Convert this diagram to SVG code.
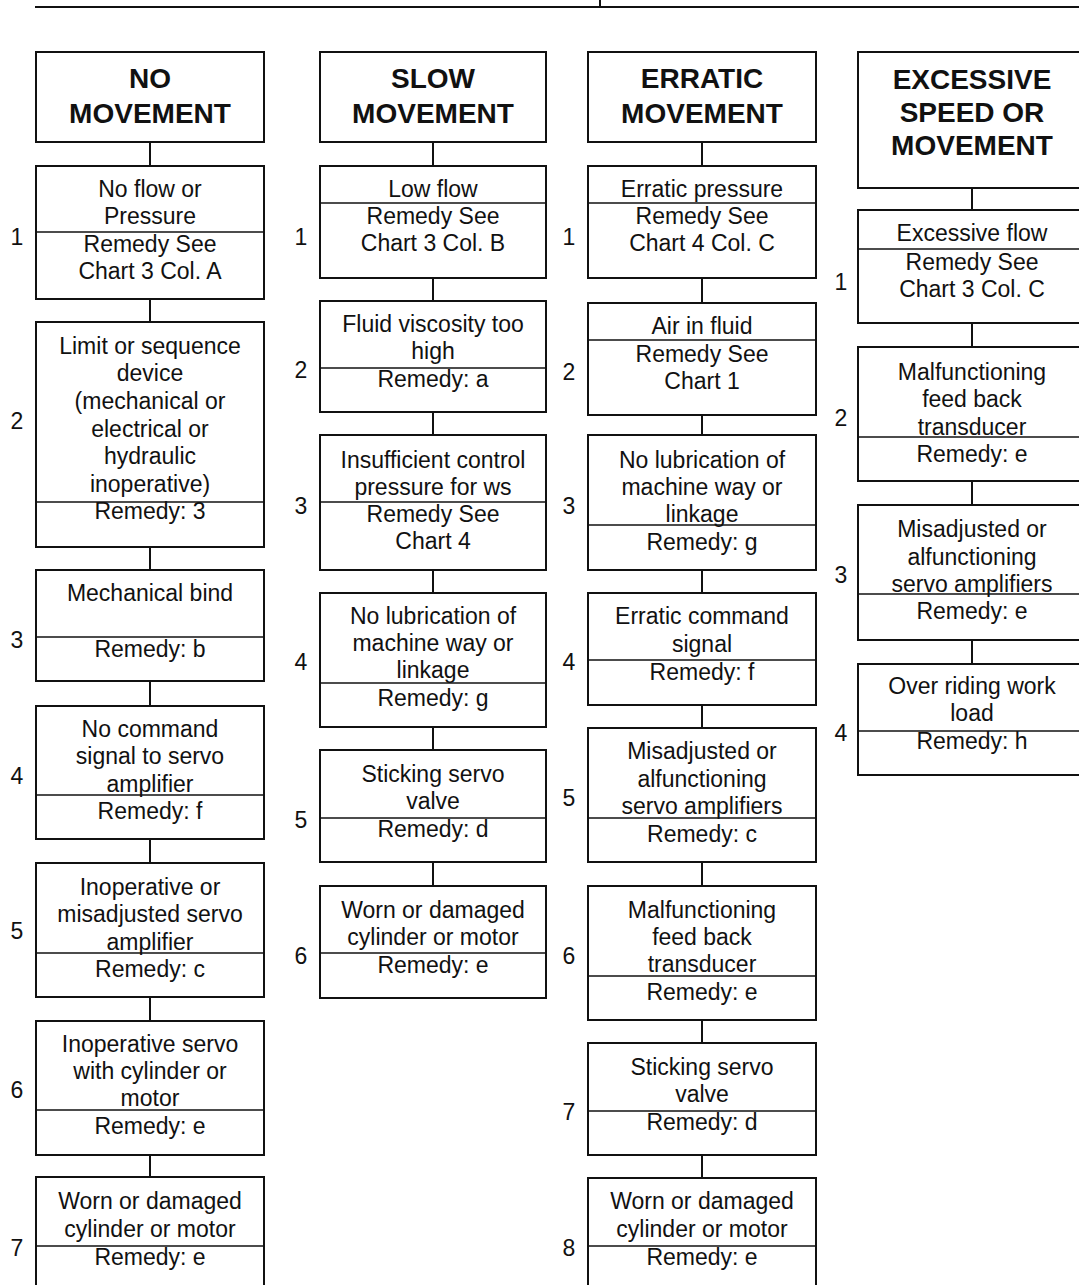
<svg xmlns="http://www.w3.org/2000/svg" width="1079" height="1285" viewBox="0 0 1079 1285">
<style>
.box{fill:#fff;stroke:#111;stroke-width:2}
.dv{stroke:#111;stroke-width:1.6}
.c{stroke:#111;stroke-width:2}
text{font-family:"Liberation Sans",Arial,sans-serif;fill:#111}
.t{font-size:23px;text-anchor:middle}
.h{font-size:28px;font-weight:bold;text-anchor:middle}
.n{font-size:23px;text-anchor:middle}
</style>
<rect width="1079" height="1285" fill="#fff"/>
<g id="topline">
<line class="c" x1="35" y1="7" x2="1079" y2="7"/>
<line class="c" x1="600" y1="0" x2="600" y2="7"/>
</g>
<g id="connectors">
<line class="c" x1="150" y1="142" x2="150" y2="166"/>
<line class="c" x1="150" y1="299" x2="150" y2="322"/>
<line class="c" x1="150" y1="547" x2="150" y2="570"/>
<line class="c" x1="150" y1="681" x2="150" y2="706"/>
<line class="c" x1="150" y1="839" x2="150" y2="863"/>
<line class="c" x1="150" y1="997" x2="150" y2="1021"/>
<line class="c" x1="150" y1="1155" x2="150" y2="1177"/>
<line class="c" x1="433" y1="142" x2="433" y2="166"/>
<line class="c" x1="433" y1="278" x2="433" y2="301"/>
<line class="c" x1="433" y1="412" x2="433" y2="435"/>
<line class="c" x1="433" y1="570" x2="433" y2="593"/>
<line class="c" x1="433" y1="727" x2="433" y2="750"/>
<line class="c" x1="433" y1="862" x2="433" y2="886"/>
<line class="c" x1="702" y1="142" x2="702" y2="166"/>
<line class="c" x1="702" y1="278" x2="702" y2="303"/>
<line class="c" x1="702" y1="415" x2="702" y2="435"/>
<line class="c" x1="702" y1="570" x2="702" y2="593"/>
<line class="c" x1="702" y1="705" x2="702" y2="728"/>
<line class="c" x1="702" y1="862" x2="702" y2="886"/>
<line class="c" x1="702" y1="1020" x2="702" y2="1043"/>
<line class="c" x1="702" y1="1155" x2="702" y2="1178"/>
<line class="c" x1="972" y1="188" x2="972" y2="210"/>
<line class="c" x1="972" y1="323" x2="972" y2="347"/>
<line class="c" x1="972" y1="481" x2="972" y2="505"/>
<line class="c" x1="972" y1="640" x2="972" y2="664"/>
</g>

<!-- Column 1 -->
<g id="c1h"><rect class="box" x="36" y="52" width="228" height="90"/><text class="h" x="150" y="88">NO</text><text class="h" x="150" y="123">MOVEMENT</text></g>
<g id="c1b1"><rect class="box" x="36" y="166" width="228" height="133"/><line class="dv" x1="36" y1="232" x2="264" y2="232"/>
<text class="t" x="150" y="197">No flow or</text><text class="t" x="150" y="224">Pressure</text><text class="t" x="150" y="252">Remedy See</text><text class="t" x="150" y="279">Chart 3 Col. A</text><text class="n" x="17" y="245">1</text></g>
<g id="c1b2"><rect class="box" x="36" y="322" width="228" height="225"/><line class="dv" x1="36" y1="502" x2="264" y2="502"/>
<text class="t" x="150" y="354">Limit or sequence</text><text class="t" x="150" y="381">device</text><text class="t" x="150" y="409">(mechanical or</text><text class="t" x="150" y="437">electrical or</text><text class="t" x="150" y="464">hydraulic</text><text class="t" x="150" y="492">inoperative)</text><text class="t" x="150" y="519">Remedy: 3</text><text class="n" x="17" y="429">2</text></g>
<g id="c1b3"><rect class="box" x="36" y="570" width="228" height="111"/><line class="dv" x1="36" y1="637" x2="264" y2="637"/>
<text class="t" x="150" y="601">Mechanical bind</text><text class="t" x="150" y="657">Remedy: b</text><text class="n" x="17" y="648">3</text></g>
<g id="c1b4"><rect class="box" x="36" y="706" width="228" height="133"/><line class="dv" x1="36" y1="795" x2="264" y2="795"/>
<text class="t" x="150" y="737">No command</text><text class="t" x="150" y="764">signal to servo</text><text class="t" x="150" y="792">amplifier</text><text class="t" x="150" y="819">Remedy: f</text><text class="n" x="17" y="784">4</text></g>
<g id="c1b5"><rect class="box" x="36" y="863" width="228" height="134"/><line class="dv" x1="36" y1="953" x2="264" y2="953"/>
<text class="t" x="150" y="895">Inoperative or</text><text class="t" x="150" y="922">misadjusted servo</text><text class="t" x="150" y="950">amplifier</text><text class="t" x="150" y="977">Remedy: c</text><text class="n" x="17" y="939">5</text></g>
<g id="c1b6"><rect class="box" x="36" y="1021" width="228" height="134"/><line class="dv" x1="36" y1="1110" x2="264" y2="1110"/>
<text class="t" x="150" y="1052">Inoperative servo</text><text class="t" x="150" y="1079">with cylinder or</text><text class="t" x="150" y="1106">motor</text><text class="t" x="150" y="1134">Remedy: e</text><text class="n" x="17" y="1098">6</text></g>
<g id="c1b7"><rect class="box" x="36" y="1177" width="228" height="130"/><line class="dv" x1="36" y1="1246" x2="264" y2="1246"/>
<text class="t" x="150" y="1209">Worn or damaged</text><text class="t" x="150" y="1237">cylinder or motor</text><text class="t" x="150" y="1265">Remedy: e</text><text class="n" x="17" y="1256">7</text></g>

<!-- Column 2 -->
<g id="c2h"><rect class="box" x="320" y="52" width="226" height="90"/><text class="h" x="433" y="88">SLOW</text><text class="h" x="433" y="123">MOVEMENT</text></g>
<g id="c2b1"><rect class="box" x="320" y="166" width="226" height="112"/><line class="dv" x1="320" y1="203" x2="546" y2="203"/>
<text class="t" x="433" y="197">Low flow</text><text class="t" x="433" y="224">Remedy See</text><text class="t" x="433" y="251">Chart 3 Col. B</text><text class="n" x="301" y="245">1</text></g>
<g id="c2b2"><rect class="box" x="320" y="301" width="226" height="111"/><line class="dv" x1="320" y1="368" x2="546" y2="368"/>
<text class="t" x="433" y="332">Fluid viscosity too</text><text class="t" x="433" y="359">high</text><text class="t" x="433" y="387">Remedy: a</text><text class="n" x="301" y="378">2</text></g>
<g id="c2b3"><rect class="box" x="320" y="435" width="226" height="135"/><line class="dv" x1="320" y1="502" x2="546" y2="502"/>
<text class="t" x="433" y="468">Insufficient control</text><text class="t" x="433" y="495">pressure for ws</text><text class="t" x="433" y="522">Remedy See</text><text class="t" x="433" y="549">Chart 4</text><text class="n" x="301" y="514">3</text></g>
<g id="c2b4"><rect class="box" x="320" y="593" width="226" height="134"/><line class="dv" x1="320" y1="683" x2="546" y2="683"/>
<text class="t" x="433" y="624">No lubrication of</text><text class="t" x="433" y="651">machine way or</text><text class="t" x="433" y="678">linkage</text><text class="t" x="433" y="706">Remedy: g</text><text class="n" x="301" y="670">4</text></g>
<g id="c2b5"><rect class="box" x="320" y="750" width="226" height="112"/><line class="dv" x1="320" y1="818" x2="546" y2="818"/>
<text class="t" x="433" y="782">Sticking servo</text><text class="t" x="433" y="809">valve</text><text class="t" x="433" y="837">Remedy: d</text><text class="n" x="301" y="828">5</text></g>
<g id="c2b6"><rect class="box" x="320" y="886" width="226" height="112"/><line class="dv" x1="320" y1="953" x2="546" y2="953"/>
<text class="t" x="433" y="918">Worn or damaged</text><text class="t" x="433" y="945">cylinder or motor</text><text class="t" x="433" y="973">Remedy: e</text><text class="n" x="301" y="964">6</text></g>

<!-- Column 3 -->
<g id="c3h"><rect class="box" x="588" y="52" width="228" height="90"/><text class="h" x="702" y="88">ERRATIC</text><text class="h" x="702" y="123">MOVEMENT</text></g>
<g id="c3b1"><rect class="box" x="588" y="166" width="228" height="112"/><line class="dv" x1="588" y1="203" x2="816" y2="203"/>
<text class="t" x="702" y="197">Erratic pressure</text><text class="t" x="702" y="224">Remedy See</text><text class="t" x="702" y="251">Chart 4 Col. C</text><text class="n" x="569" y="245">1</text></g>
<g id="c3b2"><rect class="box" x="588" y="303" width="228" height="112"/><line class="dv" x1="588" y1="340" x2="816" y2="340"/>
<text class="t" x="702" y="334">Air in fluid</text><text class="t" x="702" y="362">Remedy See</text><text class="t" x="702" y="389">Chart 1</text><text class="n" x="569" y="380">2</text></g>
<g id="c3b3"><rect class="box" x="588" y="435" width="228" height="135"/><line class="dv" x1="588" y1="525" x2="816" y2="525"/>
<text class="t" x="702" y="468">No lubrication of</text><text class="t" x="702" y="495">machine way or</text><text class="t" x="702" y="522">linkage</text><text class="t" x="702" y="550">Remedy: g</text><text class="n" x="569" y="514">3</text></g>
<g id="c3b4"><rect class="box" x="588" y="593" width="228" height="112"/><line class="dv" x1="588" y1="660" x2="816" y2="660"/>
<text class="t" x="702" y="624">Erratic command</text><text class="t" x="702" y="652">signal</text><text class="t" x="702" y="680">Remedy: f</text><text class="n" x="569" y="670">4</text></g>
<g id="c3b5"><rect class="box" x="588" y="728" width="228" height="134"/><line class="dv" x1="588" y1="818" x2="816" y2="818"/>
<text class="t" x="702" y="759">Misadjusted or</text><text class="t" x="702" y="787">alfunctioning</text><text class="t" x="702" y="814">servo amplifiers</text><text class="t" x="702" y="842">Remedy: c</text><text class="n" x="569" y="806">5</text></g>
<g id="c3b6"><rect class="box" x="588" y="886" width="228" height="134"/><line class="dv" x1="588" y1="976" x2="816" y2="976"/>
<text class="t" x="702" y="918">Malfunctioning</text><text class="t" x="702" y="945">feed back</text><text class="t" x="702" y="972">transducer</text><text class="t" x="702" y="1000">Remedy: e</text><text class="n" x="569" y="964">6</text></g>
<g id="c3b7"><rect class="box" x="588" y="1043" width="228" height="112"/><line class="dv" x1="588" y1="1111" x2="816" y2="1111"/>
<text class="t" x="702" y="1075">Sticking servo</text><text class="t" x="702" y="1102">valve</text><text class="t" x="702" y="1130">Remedy: d</text><text class="n" x="569" y="1120">7</text></g>
<g id="c3b8"><rect class="box" x="588" y="1178" width="228" height="130"/><line class="dv" x1="588" y1="1246" x2="816" y2="1246"/>
<text class="t" x="702" y="1209">Worn or damaged</text><text class="t" x="702" y="1237">cylinder or motor</text><text class="t" x="702" y="1265">Remedy: e</text><text class="n" x="569" y="1256">8</text></g>

<!-- Column 4 -->
<g id="c4h"><rect class="box" x="858" y="52" width="228" height="136"/><text class="h" x="972" y="89">EXCESSIVE</text><text class="h" x="972" y="122">SPEED OR</text><text class="h" x="972" y="155">MOVEMENT</text></g>
<g id="c4b1"><rect class="box" x="858" y="210" width="228" height="113"/><line class="dv" x1="858" y1="249" x2="1086" y2="249"/>
<text class="t" x="972" y="241">Excessive flow</text><text class="t" x="972" y="270">Remedy See</text><text class="t" x="972" y="297">Chart 3 Col. C</text><text class="n" x="841" y="290">1</text></g>
<g id="c4b2"><rect class="box" x="858" y="347" width="228" height="134"/><line class="dv" x1="858" y1="437" x2="1086" y2="437"/>
<text class="t" x="972" y="380">Malfunctioning</text><text class="t" x="972" y="407">feed back</text><text class="t" x="972" y="435">transducer</text><text class="t" x="972" y="462">Remedy: e</text><text class="n" x="841" y="426">2</text></g>
<g id="c4b3"><rect class="box" x="858" y="505" width="228" height="135"/><line class="dv" x1="858" y1="594" x2="1086" y2="594"/>
<text class="t" x="972" y="537">Misadjusted or</text><text class="t" x="972" y="565">alfunctioning</text><text class="t" x="972" y="592">servo amplifiers</text><text class="t" x="972" y="619">Remedy: e</text><text class="n" x="841" y="583">3</text></g>
<g id="c4b4"><rect class="box" x="858" y="664" width="228" height="111"/><line class="dv" x1="858" y1="731" x2="1086" y2="731"/>
<text class="t" x="972" y="694">Over riding work</text><text class="t" x="972" y="721">load</text><text class="t" x="972" y="749">Remedy: h</text><text class="n" x="841" y="741">4</text></g>
</svg>
